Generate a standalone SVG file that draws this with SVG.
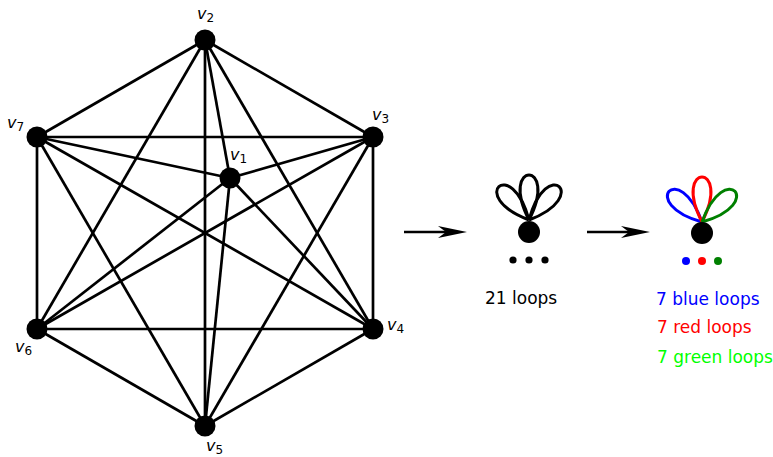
<svg xmlns="http://www.w3.org/2000/svg" xmlns:xlink="http://www.w3.org/1999/xlink" width="773" height="457" viewBox="0 0 773 457">
<style>
.e{stroke:#000;stroke-width:2.7;fill:none}
.n{fill:#000}
.lbl{font-family:"DejaVu Sans",sans-serif;font-size:16px;font-style:oblique;fill:#000}
.sub{font-size:12px;font-style:normal}
.t{font-family:"DejaVu Sans",sans-serif;font-size:17px}
.pet{fill:none;stroke-width:3;stroke-linejoin:round}
</style>
<defs>
<path id="petal" d="M0,0 C-31,-60 31,-60 0,0"/>
<path id="ah" d="M0,0 L-29,-6 L-21,0 L-29,6 Z"/>
</defs>
<rect width="773" height="457" fill="#fff"/>
<g id="connectors">
<line class="e" x1="205" y1="40" x2="37" y2="137"/>
<line class="e" x1="205" y1="40" x2="373" y2="137"/>
<line class="e" x1="37" y1="137" x2="37" y2="329"/>
<line class="e" x1="373" y1="137" x2="373" y2="329"/>
<line class="e" x1="37" y1="329" x2="205" y2="426"/>
<line class="e" x1="373" y1="329" x2="205" y2="426"/>
<line class="e" x1="37" y1="137" x2="373" y2="137"/>
<line class="e" x1="37" y1="329" x2="373" y2="329"/>
<line class="e" x1="205" y1="40" x2="205" y2="426"/>
<line class="e" x1="205" y1="40" x2="37" y2="329"/>
<line class="e" x1="205" y1="40" x2="373" y2="329"/>
<line class="e" x1="37" y1="137" x2="373" y2="329"/>
<line class="e" x1="37" y1="137" x2="205" y2="426"/>
<line class="e" x1="373" y1="137" x2="37" y2="329"/>
<line class="e" x1="373" y1="137" x2="205" y2="426"/>
<line class="e" x1="230" y1="178" x2="205" y2="40"/>
<line class="e" x1="230" y1="178" x2="37" y2="137"/>
<line class="e" x1="230" y1="178" x2="373" y2="137"/>
<line class="e" x1="230" y1="178" x2="37" y2="329"/>
<line class="e" x1="230" y1="178" x2="373" y2="329"/>
<line class="e" x1="230" y1="178" x2="205" y2="426"/>
<line class="e" x1="404" y1="232" x2="450" y2="232"/>
<use href="#ah" xlink:href="#ah" x="467" y="232"/>
<line class="e" x1="587" y1="232" x2="633" y2="232"/>
<use href="#ah" xlink:href="#ah" x="650" y="232"/>
</g>
<g id="v1"><circle class="n" cx="230" cy="178" r="10.5"/><text class="lbl" x="230" y="160">v<tspan class="sub" dy="3">1</tspan></text></g>
<g id="v2"><circle class="n" cx="205" cy="40" r="10.5"/><text class="lbl" x="197" y="19">v<tspan class="sub" dy="3">2</tspan></text></g>
<g id="v3"><circle class="n" cx="373" cy="137" r="10.5"/><text class="lbl" x="372" y="120">v<tspan class="sub" dy="3">3</tspan></text></g>
<g id="v4"><circle class="n" cx="373" cy="329" r="10.5"/><text class="lbl" x="387" y="330">v<tspan class="sub" dy="3">4</tspan></text></g>
<g id="v5"><circle class="n" cx="205" cy="426" r="10.5"/><text class="lbl" x="206" y="451">v<tspan class="sub" dy="3">5</tspan></text></g>
<g id="v6"><circle class="n" cx="37" cy="329" r="10.5"/><text class="lbl" x="15" y="352">v<tspan class="sub" dy="3">6</tspan></text></g>
<g id="v7"><circle class="n" cx="37" cy="137" r="10.5"/><text class="lbl" x="7" y="128">v<tspan class="sub" dy="3">7</tspan></text></g>
<g id="loops21">
<g stroke="#000" class="pet" transform="translate(529,220)">
<use href="#petal" xlink:href="#petal" transform="rotate(-42)"/>
<use href="#petal" xlink:href="#petal"/>
<use href="#petal" xlink:href="#petal" transform="rotate(42)"/>
</g>
<circle class="n" cx="529" cy="232" r="11"/>
<circle class="n" cx="513" cy="260" r="3.6"/>
<circle class="n" cx="529" cy="260" r="3.6"/>
<circle class="n" cx="545" cy="260" r="3.6"/>
<text class="t" x="485" y="304">21 loops</text>
</g>
<g id="loopsColored">
<g class="pet" transform="translate(702,222)">
<use href="#petal" xlink:href="#petal" stroke="#0000ff" transform="rotate(-47)"/>
<use href="#petal" xlink:href="#petal" stroke="#ff0000"/>
<use href="#petal" xlink:href="#petal" stroke="#008000" transform="rotate(47)"/>
</g>
<circle class="n" cx="702" cy="233" r="11"/>
<circle cx="686" cy="261" r="4" fill="#0000ff"/>
<circle cx="702" cy="261" r="4" fill="#ff0000"/>
<circle cx="718" cy="261" r="4" fill="#008000"/>
<text class="t" x="656" y="305" fill="#0000ff">7 blue loops</text>
<text class="t" x="657" y="333" fill="#ff0000">7 red loops</text>
<text class="t" x="657" y="363" fill="#00ff00">7 green loops</text>
</g>
</svg>
